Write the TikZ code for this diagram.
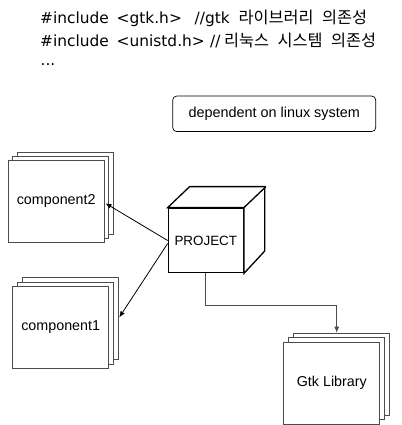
\documentclass[tikz,border=0pt]{standalone}
\usepackage{fontspec}
\setmainfont{Liberation Sans}
\newfontfamily\codefont{DejaVu Sans}
\newfontfamily\krfont{Noto Sans CJK KR}
\usetikzlibrary{shadows,arrows.meta,calc}
\newcommand{\kr}[1]{{\krfont\fontsize{16.3}{18}\selectfont #1}}
\newcommand{\krsp}{\hspace{8.5pt}}
\tikzset{
  stackbox/.style={draw=black!70, line width=0.7pt, fill=white, minimum width=96pt, minimum height=82pt, inner sep=0pt,
    font=\fontsize{14.3}{16}\selectfont,
    double copy shadow={shadow xshift=4.6pt, shadow yshift=4.2pt, draw=black!70, fill=white}},
  notebox/.style={draw=black, line width=0.7pt, rounded corners=4pt, minimum width=203pt, minimum height=35.5pt, inner sep=0pt, font=\fontsize{14.4}{16}\selectfont},
  cubeface/.style={draw=black, line width=1.3pt, fill=white, minimum width=75pt, minimum height=64.5pt, inner sep=0pt, font=\fontsize{13.4}{16}\selectfont},
  cubeedge/.style={draw=black, line width=1.3pt},
  dep/.style={draw=black, line width=0.8pt, -{Latex[length=6pt,width=5pt]}},
  codeline/.style={anchor=base west, inner sep=0pt, font=\codefont\fontsize{15.4}{18}\selectfont}
}
\begin{document}
\begin{tikzpicture}[x=1pt,y=-1pt]
\useasboundingbox (0,0) rectangle (401,425);
% code lines
\node[codeline] (l1) at (40,23.5) {\makebox[76.5pt][l]{\#include}\makebox[78pt][l]{<gtk.h>}\makebox[44pt][l]{//gtk}\kr{라이브러리\krsp 의존성}};
\node[codeline] (l2) at (40,47) {\makebox[76.5pt][l]{\#include}\makebox[93.5pt][l]{<unistd.h>}\makebox[14pt][l]{//}\kr{리눅스\krsp 시스템\krsp 의존성}};
\node[codeline] (l3) at (40.5,66) {...};
% note
\node[notebox] (note) at (274.2,113.8) {dependent on linux system};
% cube
\node[cubeface] (proj) at (205.8,240.5) {PROJECT};
\draw[cubeedge, fill=white] (proj.north west) -- ++(22,-21) -- ++(75,0) -- ++(0,64.5) -- (proj.south east) -- (proj.north east) -- cycle;
\draw[cubeedge] (proj.north east) -- ++(22,-21);
% stacks
\node[stackbox] (c2) at (56.2,201.3) {component2};
\node[stackbox] (c1) at (60.7,327.2) {component1};
\node[stackbox] (gtk) at (331.8,383) {Gtk Library};
% connectors
\coordinate (s2) at (proj.west);
\coordinate (e2) at (105.5,203.3);
\coordinate (s1) at ($(proj.west)+(0,3)$);
\coordinate (e1) at (119.3,317.3);
\draw[dep] (s2) -- (e2);
\draw[dep] (s1) -- (e1);
\coordinate (g1) at (206.5,305);
\coordinate (g2) at (336.7,332.7);
\draw[dep, draw=black!70] (proj.south) -- (proj.south |- g1) -- (g2 |- g1) -- (g2);
\end{tikzpicture}
\end{document}
